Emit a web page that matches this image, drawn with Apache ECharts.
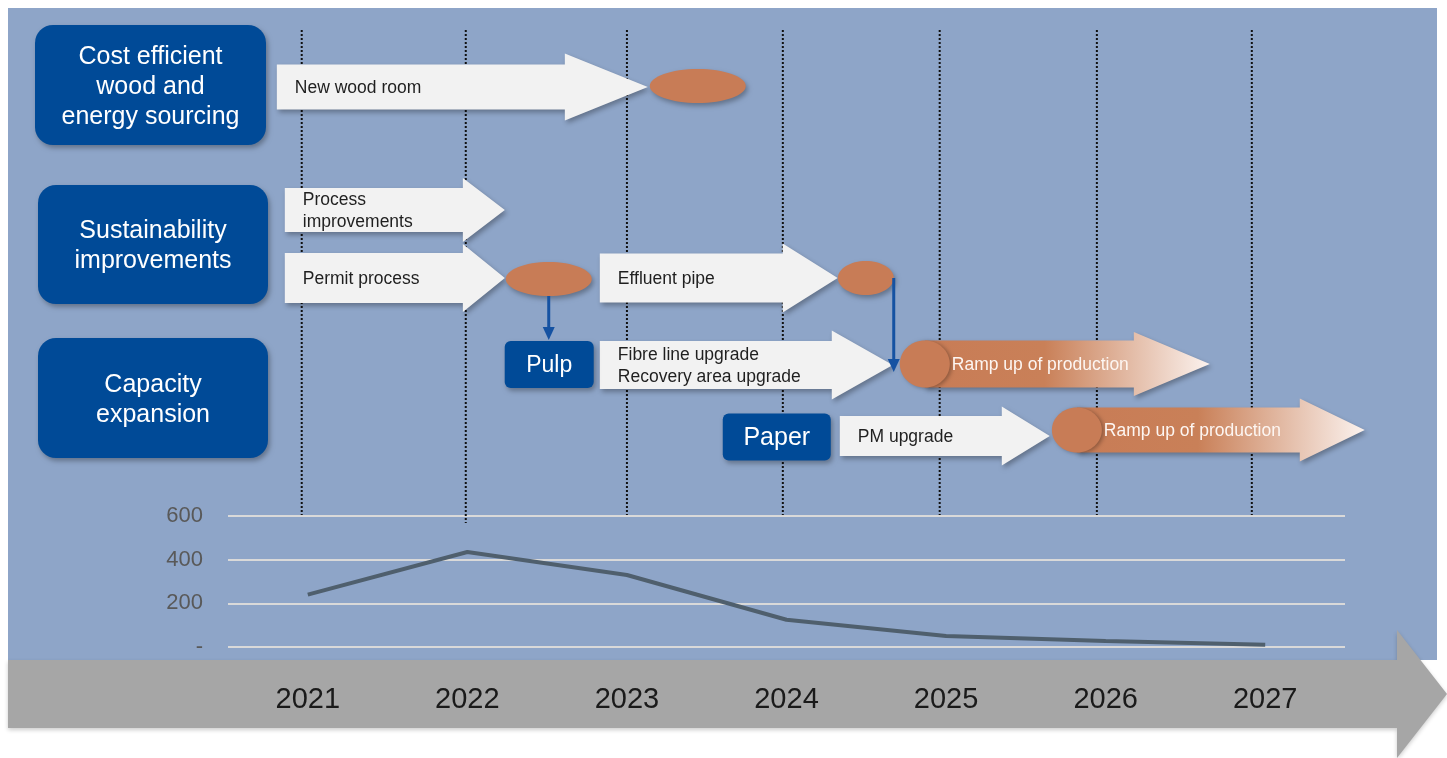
<!DOCTYPE html>
<html><head><meta charset="utf-8">
<script src="https://cdn.jsdelivr.net/npm/echarts@6/dist/echarts.min.js"></script>
<style>html,body{margin:0;padding:0;background:#fff}#c{width:1447px;height:758px}</style>
</head><body><div id="c"></div>
<script>
// ---------- data ----------
const years = ['2021','2022','2023','2024','2025','2026','2027'];
const capacityValues = [240, 435, 330, 125, 50, 28, 10];
const yMin = 0, yMax = 600, yStep = 200;

const themeNames = ['Cost efficient\nwood and\nenergy sourcing', 'Sustainability\nimprovements', 'Capacity\nexpansion'];

// timeline tasks (positions in year-index units: 0 = 2021 ... 6 = 2027)
const taskLabels = ['New wood room', 'Process\nimprovements', 'Permit process', 'Effluent pipe',
                    'Fibre line upgrade\nRecovery area upgrade', 'Ramp up of production', 'PM upgrade', 'Ramp up of production'];
const taskStart = [-0.194, -0.144, -0.144, 1.83, 1.83, 3.71, 3.334, 4.663];
const taskEnd   = [2.131, 1.235, 1.235, 3.321, 3.666, 5.653, 4.65, 6.624];
const taskKind  = ['plain','plain','plain','plain','plain','ramp','plain','ramp'];

const milestoneAt = [2.444, 1.51, 3.497];
const tagNames = ['Pulp', 'Paper'];
const tagAt = [1.513, 2.939];
const yearMarkers = [-0.038, 0.99, 2.0, 2.977, 3.96, 4.945, 5.916];

// ---------- layout (pixels) ----------
const taskLane = [87, 210, 278, 278, 365, 364, 436, 430];
const taskBodyHalf = [22.5, 22, 25, 24.5, 24, 23.5, 20, 22.5];
const taskHeadHalf = [33.5, 32, 34, 34.5, 34.5, 32, 29.5, 31.5];
const taskHeadLen = [83, 42, 42, 55, 61, 76, 48, 65];
const milestoneLane = [86, 279, 278];
const milestoneRx = [48, 43, 28];
const tagLane = [364.5, 437];
const tagW = [89, 108];
const tagFont = [23, 25];

const FONT = 'Arial, "Liberation Sans", sans-serif';
const ORANGE = '#C87C56';
const NAVY = '#004A97';

const chart = echarts.init(document.getElementById('c'));

function arrowPts(x0, x1, yc, bh, hh, hl) {
  const xh = x1 - hl;
  return [[x0, yc-bh],[xh, yc-bh],[xh, yc-hh],[x1, yc],[xh, yc+hh],[xh, yc+bh],[x0, yc+bh]];
}

const shadow = {shadowBlur: 5, shadowOffsetX: 2, shadowOffsetY: 3, shadowColor: 'rgba(0,0,0,0.3)'};

const themeBoxes = [
  {x: 35, y: 25, w: 231, h: 120},
  {x: 38, y: 185, w: 230, h: 119},
  {x: 38, y: 338, w: 230, h: 120}
];

const graphics = [
  {type: 'rect', z: -10, shape: {x: 8, y: 8, width: 1429, height: 652}, style: {fill: '#8EA5C8'}},
  {type: 'polygon', z: -5, shape: {points: [[8,660],[1397,660],[1397,630],[1447,694],[1397,758],[1397,728],[8,728]]},
   style: {fill: '#A6A6A6', shadowBlur: 4, shadowOffsetY: 2, shadowColor: 'rgba(0,0,0,0.2)'}}
];
themeBoxes.forEach((b, i) => {
  graphics.push({
    type: 'rect', z: 10,
    shape: {x: b.x, y: b.y, width: b.w, height: b.h, r: 18},
    style: Object.assign({fill: NAVY}, shadow)
  });
  graphics.push({
    type: 'text', z: 11,
    x: b.x + b.w / 2, y: b.y + b.h / 2 + 2,
    style: {text: themeNames[i], fill: '#fff', fontSize: 25, fontFamily: FONT, lineHeight: 30,
            textAlign: 'center', textVerticalAlign: 'middle', align: 'center', verticalAlign: 'middle'}
  });
});

const option = {
  backgroundColor: '#fff',
  animation: false,
  graphic: {elements: graphics},
  grid: [
    {left: 228, right: 102, top: 516, bottom: 111},
    {left: 228, right: 102, top: 0, bottom: 0}
  ],
  xAxis: [
    {type: 'category', gridIndex: 0, data: years, boundaryGap: true,
     axisLine: {show: false}, axisTick: {show: false},
     axisLabel: {fontSize: 29, color: '#1A1A1A', margin: 38, fontFamily: FONT}},
    {type: 'value', gridIndex: 1, min: -0.5, max: 6.5, show: false}
  ],
  yAxis: [
    {type: 'value', gridIndex: 0, min: yMin, max: yMax, interval: yStep,
     axisLine: {show: false}, axisTick: {show: false},
     splitLine: {lineStyle: {color: '#D9D9D9', width: 2}},
     axisLabel: {fontSize: 22, color: '#595959', margin: 25, fontFamily: FONT,
                 formatter: v => v === 0 ? '-' : String(v)}},
    {type: 'value', gridIndex: 1, min: 0, max: 758, inverse: true, show: false}
  ],
  series: [
    {
      type: 'custom', xAxisIndex: 1, yAxisIndex: 1, z: 1, clip: false,
      data: yearMarkers.map(t => [t]),
      renderItem: (params, api) => {
        const t = api.value(0);
        const a = api.coord([t, 30]);
        const b = api.coord([t, params.dataIndex === 1 ? 523 : 515]);
        return {type: 'line', shape: {x1: a[0], y1: a[1], x2: b[0], y2: b[1]},
                style: {stroke: '#111', lineWidth: 2, lineDash: [2, 2]}};
      }
    },
    {
      type: 'line', xAxisIndex: 0, yAxisIndex: 0, data: capacityValues, symbol: 'none', z: 4,
      lineStyle: {color: '#4F5F6D', width: 4}
    },
    {
      type: 'custom', xAxisIndex: 1, yAxisIndex: 1, z: 3, clip: false,
      data: taskStart.map((s, i) => [s, taskEnd[i], taskLane[i]]),
      renderItem: (params, api) => {
        const i = params.dataIndex;
        const p0 = api.coord([api.value(0), api.value(2)]);
        const p1 = api.coord([api.value(1), api.value(2)]);
        const x0 = p0[0], x1 = p1[0], yc = p0[1];
        const bh = taskBodyHalf[i], hh = taskHeadHalf[i], hl = taskHeadLen[i];
        if (taskKind[i] === 'plain') {
          return {type: 'group', children: [
            {type: 'polygon', shape: {points: arrowPts(x0, x1, yc, bh, hh, hl)},
             style: Object.assign({fill: '#F2F2F2'}, shadow)},
            {type: 'text', style: {text: taskLabels[i], x: x0 + 18, y: yc + 1, align: 'left', verticalAlign: 'middle',
                                   fill: '#1F1F1F', fontSize: 17.5, fontFamily: FONT, lineHeight: 22}}
          ]};
        }
        const rx = 25;
        return {type: 'group', children: [
          {type: 'polygon', shape: {points: arrowPts(x0 + rx, x1, yc, bh, hh, hl)},
           style: Object.assign({fill: {type: 'linear', x: 0, y: 0, x2: 1, y2: 0, colorStops: [
             {offset: 0, color: ORANGE}, {offset: 0.42, color: '#C98058'}, {offset: 1, color: '#FBF2EE'}]}}, shadow)},
          {type: 'ellipse', shape: {cx: x0 + rx, cy: yc, rx: rx, ry: bh},
           style: {fill: ORANGE, shadowBlur: 4, shadowOffsetX: 2, shadowOffsetY: 1, shadowColor: 'rgba(0,0,0,0.3)'}},
          {type: 'text', style: {text: taskLabels[i], x: x0 + 52, y: yc + 1, align: 'left', verticalAlign: 'middle',
                                 fill: '#FDF6F2', fontSize: 17.5, fontFamily: FONT}}
        ]};
      }
    },
    {
      type: 'custom', xAxisIndex: 1, yAxisIndex: 1, z: 5, clip: false,
      data: milestoneAt.map((t, i) => [t, milestoneLane[i]]),
      renderItem: (params, api) => {
        const i = params.dataIndex;
        const c = api.coord([api.value(0), api.value(1)]);
        return {type: 'ellipse', shape: {cx: c[0], cy: c[1], rx: milestoneRx[i], ry: 17},
                style: Object.assign({fill: ORANGE}, shadow)};
      }
    },
    {
      type: 'custom', xAxisIndex: 1, yAxisIndex: 1, z: 6, clip: false,
      data: tagAt.map((t, i) => [t, tagLane[i]]),
      renderItem: (params, api) => {
        const i = params.dataIndex;
        const c = api.coord([api.value(0), api.value(1)]);
        const w = tagW[i], h = 47;
        return {type: 'group', children: [
          {type: 'rect', shape: {x: c[0] - w / 2, y: c[1] - h / 2, width: w, height: h, r: 6},
           style: Object.assign({fill: NAVY}, shadow)},
          {type: 'text', style: {text: tagNames[i], x: c[0], y: c[1] + 1, align: 'center', verticalAlign: 'middle',
                                 fill: '#fff', fontSize: tagFont[i], fontFamily: FONT}}
        ]};
      }
    },
    {
      // connectors from milestones down to the capacity rows
      type: 'custom', xAxisIndex: 1, yAxisIndex: 1, z: 7, clip: false,
      data: [[1.51, 296, 340], [3.672, 278, 372]],
      renderItem: (params, api) => {
        const a = api.coord([api.value(0), api.value(1)]);
        const b = api.coord([api.value(0), api.value(2)]);
        const col = '#1552A2';
        return {type: 'group', children: [
          {type: 'line', shape: {x1: a[0], y1: a[1], x2: b[0], y2: b[1] - 10}, style: {stroke: col, lineWidth: 3}},
          {type: 'polygon', shape: {points: [[b[0] - 6, b[1] - 13], [b[0] + 6, b[1] - 13], [b[0], b[1]]]}, style: {fill: col}}
        ]};
      }
    }
  ]
};
chart.setOption(option);
</script></body></html>
